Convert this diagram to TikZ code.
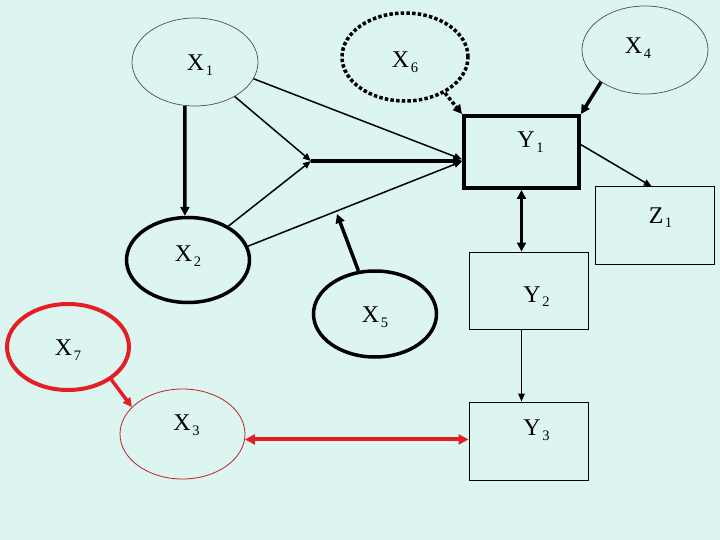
\documentclass[tikz,border=0pt]{standalone}
\usepackage{fontspec}
\setmainfont{Liberation Serif}
\usetikzlibrary{shapes.geometric,arrows.meta,calc}
\definecolor{bgc}{RGB}{221,245,240}
\definecolor{redc}{RGB}{228,30,36}
\definecolor{dredc}{RGB}{190,30,40}
\newcommand\sublab[2]{#1\kern1.5pt\raisebox{-4.7pt}{\fontsize{14.5}{15}\selectfont #2}}
\tikzset{
  lbl/.style={font=\fontsize{24}{26}\selectfont, inner sep=0pt},
  ell/.style={ellipse, minimum width=126pt, minimum height=88pt, inner sep=0pt},
  box/.style={rectangle, minimum width=119pt, minimum height=77pt, inner sep=0pt},
  thinline/.style={line width=1.5pt, -{Triangle[length=8pt,width=6.5pt]}},
  thickline/.style={line width=3.5pt, -{Triangle[length=9pt,width=9pt]}},
  dots/.style={line width=3.5pt, dash pattern=on 3.5pt off 2.2pt},
}
\begin{document}
\begin{tikzpicture}[x=1pt,y=-1pt]
\useasboundingbox[fill=bgc] (0,0) rectangle (720,540);
% nodes
\node[ell, draw=black!70, line width=0.7pt, label={[lbl,xshift=5pt,yshift=-3pt]center:\sublab{X}{1}}] (x1) at (195,62) {};
\node[ell, draw=black, dots, label={[lbl,yshift=-5pt]center:\sublab{X}{6}}] (x6) at (405,57) {};
\node[ell, draw=black!70, line width=0.7pt, label={[lbl,xshift=-7pt,yshift=2pt]center:\sublab{X}{4}}] (x4) at (645,50) {};
\node[box, draw=black, line width=4pt, minimum width=115pt, minimum height=72pt, label={[lbl,xshift=9pt,yshift=10pt]center:\sublab{Y}{1}}] (y1) at (521.5,152) {};
\node[box, draw=black, line width=1pt, label={[lbl,xshift=6pt,yshift=8pt]center:\sublab{Z}{1}}] (z1) at (654.5,225.5) {};
\node[ell, draw=black, line width=3.5pt, minimum width=123pt, minimum height=85pt, label={[lbl,yshift=4pt]center:\sublab{X}{2}}] (x2) at (188,260) {};
\node[ell, draw=black, line width=3.5pt, minimum width=123pt, minimum height=86pt, label={[lbl,yshift=-3pt]center:\sublab{X}{5}}] (x5) at (375,314) {};
\node[box, draw=black, line width=1pt, label={[lbl,xshift=8pt,yshift=-6pt]center:\sublab{Y}{2}}] (y2) at (528.5,290.5) {};
\node[box, draw=black, line width=1pt, minimum height=78pt, label={[lbl,xshift=8pt,yshift=11pt]center:\sublab{Y}{3}}] (y3) at (528.5,441) {};
\node[ell, draw=redc, line width=4pt, minimum width=122pt, minimum height=86pt, label={[lbl,yshift=-3pt]center:\sublab{X}{7}}] (x7) at (68,347) {};
\node[ell, draw=dredc, line width=0.8pt, minimum width=125pt, minimum height=90pt, label={[lbl,xshift=4pt,yshift=9pt]center:\sublab{X}{3}}] (x3) at (182.5,434) {};
% junction and free end
\coordinate (J) at (311,161);
\coordinate (x5t) at (337,214);
% edges
\draw[thickline] (x1.257) -- (x2.94);
\draw[thinline] (x1.319) -- (J);
\draw[thinline] (x2.40) -- (J);
\draw[thickline] (J) -- (J -| y1.west);
\draw[thinline] (x1.344) -- (y1.187);
\draw[thinline] (x2.13) -- (y1.189);
\draw[thickline] (x5.111) -- (x5t);
\draw[dots, -{Triangle[length=9pt,width=9pt]}] (x6.318) -- (y1.north west);
\draw[thickline] (x4.216) -- (y1.north east);
\draw[thinline] (y1.7) -- (z1.94);
\draw[line width=3.5pt, {Triangle[length=9pt,width=9pt]}-{Triangle[length=9pt,width=9pt]}] (y1.south) -- (y1.south |- y2.north);
\draw[thinline] (y1.south |- y2.south) -- (y1.south |- y3.north);
\draw[redc, thickline] (x7.323) -- (x3.152);
\draw[redc, line width=4pt, {Triangle[length=10pt,width=10pt]}-{Triangle[length=10pt,width=10pt]}] (x3.355) -- (x3.355 -| y3.west);
\end{tikzpicture}
\end{document}
